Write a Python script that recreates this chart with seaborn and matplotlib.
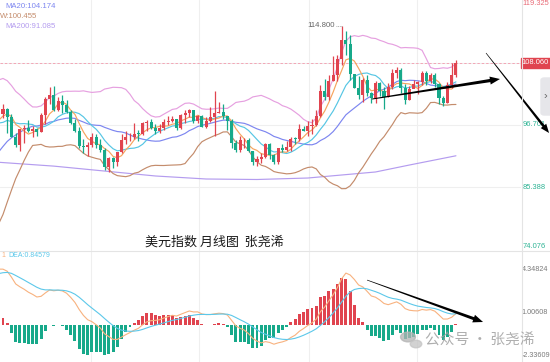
import numpy as np
import pandas as pd
import matplotlib
matplotlib.use("Agg")
import matplotlib.pyplot as plt
import seaborn as sns
from matplotlib.patches import Polygon, Rectangle, FancyBboxPatch, Circle
from matplotlib.lines import Line2D
from matplotlib.transforms import blended_transform_factory

# ---------------- data (US dollar index, monthly) ----------------
# closes before the visible window (Jan 2011 - Dec 2015), only used to warm up indicators
hist_close = [77.52, 76.69, 75.88, 72.93, 74.62, 74.26, 74.06, 74.23, 78.53, 76.24, 78.33, 80.18,
              79.04, 78.72, 79.00, 78.79, 83.18, 81.64, 82.68, 81.24, 79.97, 80.17, 80.17, 79.77,
              79.20, 82.15, 82.99, 82.11, 83.30, 83.22, 81.51, 81.93, 80.22, 80.20, 80.68, 80.04,
              81.28, 79.76, 80.10, 79.49, 80.39, 79.80, 81.45, 82.77, 85.94, 86.87, 88.36, 90.27,
              94.80, 95.29, 98.36, 94.60, 96.91, 95.47, 97.34, 95.81, 96.35, 96.94, 100.17, 98.63]

# visible candles Jan 2016 - Dec 2024
opens = [98.63, 99.61, 98.20, 94.59, 93.07, 95.88, 96.14, 95.53, 96.02, 95.46, 98.45, 101.50,
         102.21, 99.51, 101.12, 100.35, 99.05, 96.99, 95.63, 92.86, 92.67, 93.08, 94.55, 93.05,
         92.12, 89.13, 90.61, 89.97, 91.84, 93.98, 94.47, 94.54, 95.14, 95.13, 97.13, 97.27,
         96.17, 95.58, 96.16, 97.28, 97.48, 97.75, 96.13, 98.52, 98.92, 99.38, 97.35, 98.27,
         96.39, 97.39, 98.13, 98.89, 99.02, 98.34, 97.39, 93.35, 92.14, 93.89, 94.04, 91.87,
         89.94, 90.58, 90.88, 93.23, 91.28, 90.03, 92.44, 92.17, 92.63, 94.23, 94.12, 95.99,
         95.67, 96.54, 96.71, 98.31, 102.96, 101.75, 104.69, 105.90, 108.70, 112.12, 111.53, 105.95,
         103.52, 102.10, 104.87, 102.51, 101.66, 104.33, 102.91, 101.86, 103.62, 106.17, 106.66, 103.50,
         101.33, 103.27, 104.16, 104.55, 106.22, 104.67, 105.87, 104.10, 101.70, 100.78, 103.98, 105.74]
highs = [100.51, 99.84, 98.67, 95.22, 95.93, 96.75, 97.57, 96.46, 96.13, 98.96, 101.88, 103.65,
         103.82, 101.76, 102.26, 101.34, 99.43, 97.87, 96.38, 94.15, 93.64, 95.15, 95.06, 94.22,
         92.47, 90.93, 90.94, 91.85, 95.03, 95.53, 95.24, 96.98, 95.74, 97.20, 97.69, 97.71,
         96.96, 96.86, 97.71, 98.33, 98.37, 97.80, 98.69, 99.37, 99.67, 99.51, 98.54, 98.46,
         98.19, 99.91, 102.99, 100.93, 100.56, 98.37, 97.80, 93.99, 94.74, 94.31, 94.30, 91.94,
         91.06, 91.60, 93.44, 93.44, 91.44, 92.45, 93.19, 93.73, 94.50, 94.56, 96.94, 96.46,
         97.44, 97.80, 99.42, 103.94, 105.01, 105.79, 109.29, 109.48, 114.80, 113.88, 113.15, 106.02,
         105.63, 105.36, 105.88, 102.81, 104.70, 104.50, 103.57, 104.44, 106.84, 107.35, 107.11, 104.26,
         103.82, 104.97, 104.73, 106.52, 106.49, 106.13, 106.13, 104.44, 101.92, 104.63, 108.07, 108.54]
lows = [97.93, 95.25, 94.58, 92.63, 91.92, 93.43, 95.49, 94.43, 94.66, 95.38, 96.91, 100.62,
        99.23, 99.20, 98.85, 98.83, 96.80, 95.47, 92.55, 91.62, 91.01, 92.75, 92.50, 91.74,
        88.44, 88.15, 88.94, 89.23, 91.68, 93.20, 93.71, 94.08, 93.81, 94.79, 95.68, 95.98,
        94.97, 95.16, 95.74, 96.75, 97.19, 95.84, 95.97, 97.03, 98.09, 97.11, 97.08, 96.36,
        96.21, 97.27, 94.65, 98.81, 97.84, 95.71, 92.55, 91.74, 91.75, 92.47, 91.74, 89.42,
        89.21, 89.68, 90.62, 90.42, 89.54, 89.66, 91.78, 92.00, 91.94, 93.28, 93.87, 95.53,
        94.63, 95.14, 96.52, 98.15, 101.30, 101.30, 104.69, 104.64, 107.68, 109.54, 104.84, 103.38,
        101.51, 100.82, 101.92, 100.79, 100.78, 101.92, 99.58, 101.74, 103.25, 105.36, 102.46, 100.62,
        101.34, 103.36, 102.35, 104.04, 104.08, 104.28, 103.65, 100.51, 100.16, 100.70, 103.37, 105.42]
closes = [99.61, 98.20, 94.59, 93.07, 95.88, 96.14, 95.53, 96.02, 95.46, 98.45, 101.50, 102.21,
          99.51, 101.12, 100.35, 99.05, 96.99, 95.63, 92.86, 92.67, 93.08, 94.55, 93.05, 92.12,
          89.13, 90.61, 89.97, 91.84, 93.98, 94.47, 94.54, 95.14, 95.13, 97.13, 97.27, 96.17,
          95.58, 96.16, 97.28, 97.48, 97.75, 96.13, 98.52, 98.92, 99.38, 97.35, 98.27, 96.39,
          97.39, 98.13, 98.89, 99.02, 98.34, 97.39, 93.35, 92.14, 93.89, 94.04, 91.87, 89.94,
          90.58, 90.88, 93.23, 91.28, 90.03, 92.44, 92.17, 92.63, 94.23, 94.12, 95.99, 95.67,
          96.54, 96.71, 98.31, 102.96, 101.75, 104.69, 105.90, 108.70, 112.12, 111.53, 105.95, 103.52,
          102.10, 104.87, 102.51, 101.66, 104.33, 102.91, 101.86, 103.62, 106.17, 106.66, 103.50, 101.33,
          103.27, 104.16, 104.55, 106.22, 104.67, 105.87, 104.10, 101.70, 100.78, 103.98, 105.74, 108.06]

# MA200 (month index : value)
ma200_idx = [-1, 12, 24, 36, 48, 60, 72, 80, 88, 96, 107]
ma200_val = [89.9, 89.2, 88.3, 87.4, 86.85, 86.76, 87.03, 87.58, 88.13, 89.4, 91.085]

price_ticks = [119.325, 96.701, 85.388, 74.076]
price_tick_labels = ["119.325", "96.701", "85.388", "74.076"]
last_price = 108.06
last_label = "108.060"
peak_label = "114.800"
macd_ticks = [4.34824, 1.00608, -2.33609]
macd_tick_labels = ["4.34824", "1.00608", "-2.33609"]
legend_rows = ["MA20:104.174", "W:100.455", "MA200:91.085"]
dea_label = "DEA:0.84579"
title_text = "美元指数 月线图  张尧浠"
watermark = "公众号 · 张尧浠"
vgrid_idx = [20.8, 46.3, 72.3, 97.8]

# ---------------- style ----------------
RED = "#e0444f"
GREEN = "#17a98a"
C_MA5 = "#f6a45e"
C_MA10 = "#56c6e4"
C_MA20 = "#7d86f0"
C_UP = "#e6a0e0"
C_LO = "#c48c6c"
C_MA200 = "#b49cef"
C_DIF = "#f8b27f"
C_DEA = "#5cc8ea"
GRID = "#efefef"

sns.set_theme(style="white")
plt.rcParams["font.family"] = ["Liberation Sans", "DejaVu Sans"]
CJK = ["Noto Sans CJK SC", "DejaVu Sans"]

W, H = 550, 362
fig = plt.figure(figsize=(W / 100, H / 100), dpi=100)
fig.patch.set_facecolor("white")
ax = fig.add_axes([0, 1 - 250 / H, 521 / W, 250 / H])
axm = fig.add_axes([0, 0, 521 / W, 112 / H])
XL = (-0.71, 122.37)
for a in (ax, axm):
    a.set_xlim(*XL)
    a.set_xticks([]); a.set_yticks([])
    for sp in a.spines.values():
        sp.set_visible(False)
    a.set_facecolor("white")
ax.set_ylim(73.90, 119.50)
axm.set_ylim(-2.880, 5.825)

# ---------------- indicators ----------------
o = np.array(opens); h = np.array(highs); l = np.array(lows); c = np.array(closes)
nh = len(hist_close)
s = pd.Series(np.concatenate([hist_close, closes]))
idx_all = np.arange(len(s)) - nh
ma5 = s.rolling(5).mean(); ma10 = s.rolling(10).mean(); ma20 = s.rolling(20).mean()
sd = s.rolling(20).std(ddof=0)
bu = ma20 + 2 * sd; bl = ma20 - 2 * sd
dif = s.ewm(span=12, adjust=False).mean() - s.ewm(span=26, adjust=False).mean()
dea = dif.ewm(span=9, adjust=False).mean()
mh = 2 * (dif - dea)
sel = slice(nh - 1, None)
xs = idx_all[sel]

# ---------------- grid ----------------
for v in price_ticks[1:3] + [108.013]:
    ax.axhline(v, color=GRID, lw=0.8, zorder=0)
for g in vgrid_idx:
    ax.axvline(g, color=GRID, lw=0.8, zorder=0)
    axm.axvline(g, color=GRID, lw=0.8, zorder=0)
ax.axhline(last_price, color="#f3a6b6", lw=0.7, ls=(0, (2.5, 2)), zorder=1)

# ---------------- lines ----------------
def line(a, x, y, col, lw=0.85):
    sns.lineplot(x=np.asarray(x), y=np.asarray(y), ax=a, color=col, lw=lw,
                 legend=False, sort=False, errorbar=None, zorder=2)

line(ax, ma200_idx, ma200_val, C_MA200)
line(ax, xs, bu[sel], C_UP)
line(ax, xs, bl[sel], C_LO)
line(ax, xs, ma20[sel], C_MA20)
line(ax, xs, ma10[sel], C_MA10)
line(ax, xs, ma5[sel], C_MA5)

# ---------------- candles ----------------
x = np.arange(len(c))
up = c >= o
cols = np.where(up, RED, GREEN)
ax.vlines(x, l, h, colors=cols, lw=0.9, zorder=3)
body = np.maximum(np.abs(c - o), 0.12)
ax.bar(x, body, bottom=np.minimum(o, c), width=0.72, color=cols, linewidth=0, zorder=4)

# peak label
pk = int(np.argmax(h))
ax.plot([pk - 1.4, pk], [h[pk], h[pk]], color="#999999", lw=0.6, ls=(0, (1, 1)), zorder=5)
ax.text(pk - 1.5, h[pk], peak_label, ha="right", va="center", fontsize=5.6, color="#666666")

# ---------------- MACD ----------------
mv = mh.values[nh:]
axm.bar(x, mv, width=0.7, color=np.where(mv >= 0, RED, GREEN), linewidth=0, zorder=2)
line(axm, xs, dif[sel], C_DIF, lw=0.8)
line(axm, xs, dea[sel], C_DEA, lw=0.8)

# ---------------- axis labels on the right ----------------
bt = blended_transform_factory(ax.transAxes, ax.transData)
for i, (v, t) in enumerate(zip(price_ticks, price_tick_labels)):
    va = "top" if i == 0 else ("bottom" if i == len(price_ticks) - 1 else "center")
    yy = v if i in (1, 2) else (119.45 if i == 0 else 73.95)
    ax.text(1.003, yy, t, transform=bt, ha="left", va=va, fontsize=5.4,
            color="#e86a76" if i == 0 else "#2db394", clip_on=False)
btm = blended_transform_factory(axm.transAxes, axm.transData)
for v, t in zip(macd_ticks, macd_tick_labels):
    axm.text(1.001, v, t, transform=btm, ha="left", va="center", fontsize=5.2,
             color="#7a7a7a", clip_on=False)

# current price tag
ax.add_patch(Rectangle((1.0, last_price - 0.95), 29 / 521, 1.9, transform=bt,
                       color="#e0444f", clip_on=False, zorder=6))
ax.text(1.0 + 14.5 / 521, last_price, last_label, transform=bt, ha="center", va="center",
        fontsize=5.4, color="white", clip_on=False, zorder=7)

# separators
fig.add_artist(Line2D([0, 1], [1 - 250.5 / H] * 2, color="#e4e4e4", lw=0.8))
fig.add_artist(Line2D([521.5 / W] * 2, [0, 1], color="#e4e4e4", lw=0.8))

# legends
leg_x = [5, 0, 5]
leg_y = [6, 16.5, 27]
leg_c = [C_MA20, C_LO, C_MA200]
for t, px, py, cc in zip(legend_rows, leg_x, leg_y, leg_c):
    fig.text(px / W, 1 - py / H, t, ha="left", va="center", fontsize=5.6, color=cc)
fig.text(1 / W, 1 - 255.5 / H, "1", ha="left", va="center", fontsize=5.0, color=C_DIF)
fig.text(8 / W, 1 - 255.5 / H, dea_label, ha="left", va="center", fontsize=5.0, color=C_DEA)

# title
fig.text(145 / W, 1 - 242 / H, title_text, ha="left", va="center", fontsize=9.4,
         color="#1a1a1a", family=CJK)

# watermark
fig.text(425 / W, 1 - 340 / H, watermark, ha="left", va="center", fontsize=10.6,
         color="#a0a0a0", alpha=0.85, family=CJK)
fig.add_artist(Circle((408 / W, 1 - 337 / H), 0.0135, transform=fig.transFigure,
                      color="#b4b4b4", alpha=0.75))
fig.add_artist(Circle((416 / W, 1 - 344 / H), 0.0105, transform=fig.transFigure,
                      color="#c4c4c4", alpha=0.75))

# right tab
fig.add_artist(FancyBboxPatch((541 / W, 1 - 115 / H), 12 / W, 37 / H,
                              boxstyle="round,pad=0,rounding_size=0.006",
                              transform=fig.transFigure, color="#e6e6ea"))
fig.text(545.5 / W, 1 - 96 / H, "›", ha="center", va="center", fontsize=8, color="#666666")

# ---------------- hand drawn arrows ----------------
def taper_arrow(a, p0, p1, w0, w1, hl, hw, col="black"):
    A = a.transData.transform(p0); B = a.transData.transform(p1)
    d = B - A; L = np.hypot(*d); u = d / L; n = np.array([-u[1], u[0]])
    hb = B - u * hl
    pts = [A + n * w0 / 2, hb + n * w1 / 2, hb + n * hw / 2, B,
           hb - n * hw / 2, hb - n * w1 / 2, A - n * w0 / 2]
    pts = fig.transFigure.inverted().transform(np.array(pts))
    fig.add_artist(Polygon(pts, closed=True, transform=fig.transFigure, color=col, lw=0))

taper_arrow(ax, (87.2, 101.44), (117.4, 105.09), 1.0, 3.2, 10, 8)
taper_arrow(ax, (114.1, 109.83), (129.0, 95.24), 0.6, 2.6, 9, 7)
taper_arrow(axm, (86.0, 3.49), (113.4, 0.229), 0.6, 3.0, 10, 8)

fig.savefig("out.png", dpi=100, facecolor="white")
